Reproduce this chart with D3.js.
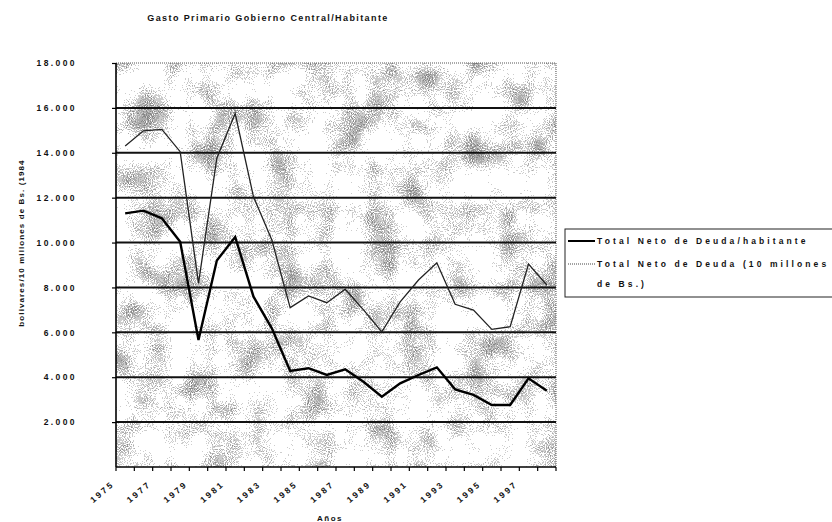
<!DOCTYPE html>
<html>
<head>
<meta charset="utf-8">
<script src="https://cdn.jsdelivr.net/npm/d3@7/dist/d3.min.js"></script>
<style>
  html, body { margin: 0; padding: 0; background: #fff; }
  svg { display: block; font-family: "Liberation Sans", Arial, sans-serif; font-weight: bold; }
</style>
</head>
<body>
<div id="chart"></div>
<script>
/* ── data ─────────────────────────────────────────────────── */
const years = d3.range(1975, 1999).map(String);
const tickYears = ['1975','1977','1979','1981','1983','1985','1987','1989','1991','1993','1995','1997'];

// Total Neto de Deuda/habitante (thick line)
const perHabitante = [11300, 11420, 11080, 10040, 5660, 9200, 10250, 7590, 6180, 4280,
                      4400, 4100, 4350, 3800, 3130, 3730, 4100, 4440, 3460, 3210,
                      2760, 2760, 3950, 3400];
// Total Neto de Deuda (10 millones de Bs.) (thin line)
const total10M = [14300, 14980, 15040, 14050, 8180, 13760, 15750, 12040, 10110, 7100,
                  7620, 7320, 7920, 7000, 6020, 7360, 8330, 9100, 7250, 6990,
                  6130, 6250, 9040, 8110];

const yTicks = [0, 2000, 4000, 6000, 8000, 10000, 12000, 14000, 16000, 18000];

/* ── layout ───────────────────────────────────────────────── */
const W = 832, H = 522;
const ML = 116, MR = 276, MT = 63, MB = 55;

const svg = d3.select('#chart').append('svg')
  .attr('width', W).attr('height', H);

const x = d3.scaleBand().domain(years).range([ML, W - MR]).padding(0);
const y = d3.scaleLinear().domain([0, 18000]).range([H - MB, MT]);

// speckled scan texture for the plot background
const defs = svg.append('defs');
const filt = defs.append('filter').attr('id', 'speck')
  .attr('x', 0).attr('y', 0).attr('width', '100%').attr('height', '100%');
filt.append('feTurbulence').attr('type', 'fractalNoise').attr('baseFrequency', 0.03)
  .attr('numOctaves', 2).attr('seed', 4).attr('result', 'blob');
filt.append('feColorMatrix').attr('in', 'blob').attr('type', 'matrix')
  .attr('values', '0 0 0 0 0  0 0 0 0 0  0 0 0 0 0  1 0 0 0 0').attr('result', 'blobA');
filt.append('feTurbulence').attr('type', 'fractalNoise').attr('baseFrequency', 0.95)
  .attr('numOctaves', 1).attr('seed', 9).attr('result', 'fine');
filt.append('feColorMatrix').attr('in', 'fine').attr('type', 'matrix')
  .attr('values', '0 0 0 0 0  0 0 0 0 0  0 0 0 0 0  1 0 0 0 0').attr('result', 'fineA');
filt.append('feComposite').attr('in', 'fineA').attr('in2', 'blobA')
  .attr('operator', 'arithmetic').attr('k1', 0).attr('k2', 1).attr('k3', 0.9).attr('k4', -0.4)
  .attr('result', 'sum');
const ct = filt.append('feComponentTransfer').attr('in', 'sum').attr('result', 'mask');
ct.append('feFuncA').attr('type', 'discrete').attr('tableValues', '0 0 0 0 0 0.3 0.5 0.7');
filt.append('feFlood').attr('flood-color', '#555').attr('result', 'ink');
filt.append('feComposite').attr('in', 'ink').attr('in2', 'mask').attr('operator', 'in');

svg.append('rect')
  .attr('x', ML).attr('y', MT)
  .attr('width', W - MR - ML).attr('height', H - MB - MT)
  .attr('fill', '#fff').attr('filter', 'url(#speck)');

// dotted plot border (top & right)
svg.append('path')
  .attr('d', `M${ML},${MT}H${W - MR}V${H - MB}`)
  .attr('fill', 'none').attr('stroke', '#555').attr('stroke-width', 1)
  .attr('stroke-dasharray', '1,1');

// gridlines
svg.append('g').selectAll('line')
  .data(yTicks.filter(v => v > 0 && v < 18000))
  .join('line')
  .attr('x1', ML).attr('x2', W - MR)
  .attr('y1', d => y(d)).attr('y2', d => y(d))
  .attr('stroke', '#111').attr('stroke-width', 2);

// ── axes ─────────────────────────────────────────────────────
const fmt = d => d3.format(',')(d).replace(/,/g, '.');

const yAxisG = svg.append('g').attr('transform', `translate(${ML},0)`)
  .call(d3.axisLeft(y).tickValues(yTicks.slice(1)).tickSize(4).tickFormat(fmt));
yAxisG.select('.domain').attr('stroke', '#000').attr('stroke-width', 1.6)
  .attr('d', `M0,${MT}V${H - MB}`);
yAxisG.selectAll('.tick line').attr('stroke', '#000').attr('stroke-width', 1.2);
yAxisG.selectAll('.tick text')
  .attr('x', -39).attr('text-anchor', 'end')
  .attr('font-size', 8.5).attr('font-weight', 'bold')
  .attr('letter-spacing', 2.4).attr('fill', '#111');

const xAxisG = svg.append('g').attr('transform', `translate(0,${H - MB})`);
xAxisG.append('line').attr('x1', ML).attr('x2', W - MR)
  .attr('stroke', '#000').attr('stroke-width', 1.6);
xAxisG.selectAll('.xt').data(years.concat(['end']))
  .join('line').attr('class', 'xt')
  .attr('x1', d => d === 'end' ? W - MR : x(d))
  .attr('x2', d => d === 'end' ? W - MR : x(d))
  .attr('y1', 0).attr('y2', 4)
  .attr('stroke', '#000').attr('stroke-width', 1.2);
xAxisG.selectAll('.xl').data(tickYears)
  .join('text').attr('class', 'xl')
  .attr('transform', d => `translate(${x(d) - 1},18) rotate(-40)`)
  .attr('text-anchor', 'end')
  .attr('font-size', 8.5).attr('letter-spacing', 2.4).attr('fill', '#111')
  .text(d => d);

// axis titles
svg.append('text')
  .attr('x', 268).attr('y', 21).attr('text-anchor', 'middle')
  .attr('font-size', 9).attr('letter-spacing', 1.4).attr('fill', '#111')
  .text('Gasto Primario Gobierno Central/Habitante');

svg.append('text')
  .attr('transform', 'rotate(-90)')
  .attr('x', -243).attr('y', 24).attr('text-anchor', 'middle')
  .attr('font-size', 8).attr('letter-spacing', 1.1).attr('fill', '#111')
  .text('bolivares/10 millones de Bs. (1984');

svg.append('text')
  .attr('x', 330).attr('y', 521).attr('text-anchor', 'middle')
  .attr('font-size', 8).attr('letter-spacing', 1.5).attr('fill', '#111')
  .text('Años');

// ── series ───────────────────────────────────────────────────
const line = d3.line()
  .x((d, i) => x(years[i]) + x.bandwidth() / 2)
  .y(d => y(d));

svg.append('path').datum(total10M)
  .attr('d', line).attr('fill', 'none')
  .attr('stroke', '#222').attr('stroke-width', 1.3);

svg.append('path').datum(perHabitante)
  .attr('d', line).attr('fill', 'none')
  .attr('stroke', '#000').attr('stroke-width', 2.4);

// ── legend ───────────────────────────────────────────────────
const lg = svg.append('g').attr('transform', 'translate(565,229)');
lg.append('rect').attr('width', 275).attr('height', 68)
  .attr('fill', '#fff').attr('stroke', '#222').attr('stroke-width', 1);

lg.append('line').attr('x1', 3).attr('x2', 30).attr('y1', 12).attr('y2', 12)
  .attr('stroke', '#000').attr('stroke-width', 2);
lg.append('text').attr('x', 32).attr('y', 15)
  .attr('font-size', 8.5).attr('letter-spacing', 3.1).attr('fill', '#111')
  .text('Total Neto de Deuda/habitante');

lg.append('line').attr('x1', 3).attr('x2', 30).attr('y1', 35).attr('y2', 35)
  .attr('stroke', '#444').attr('stroke-width', 1).attr('stroke-dasharray', '1,1');
lg.append('text').attr('x', 32).attr('y', 38)
  .attr('font-size', 8.5).attr('letter-spacing', 3.1).attr('fill', '#111')
  .text('Total Neto de Deuda (10 millones');
lg.append('text').attr('x', 32).attr('y', 58)
  .attr('font-size', 8.5).attr('letter-spacing', 3.1).attr('fill', '#111')
  .text('de Bs.)');
</script>
</body>
</html>
